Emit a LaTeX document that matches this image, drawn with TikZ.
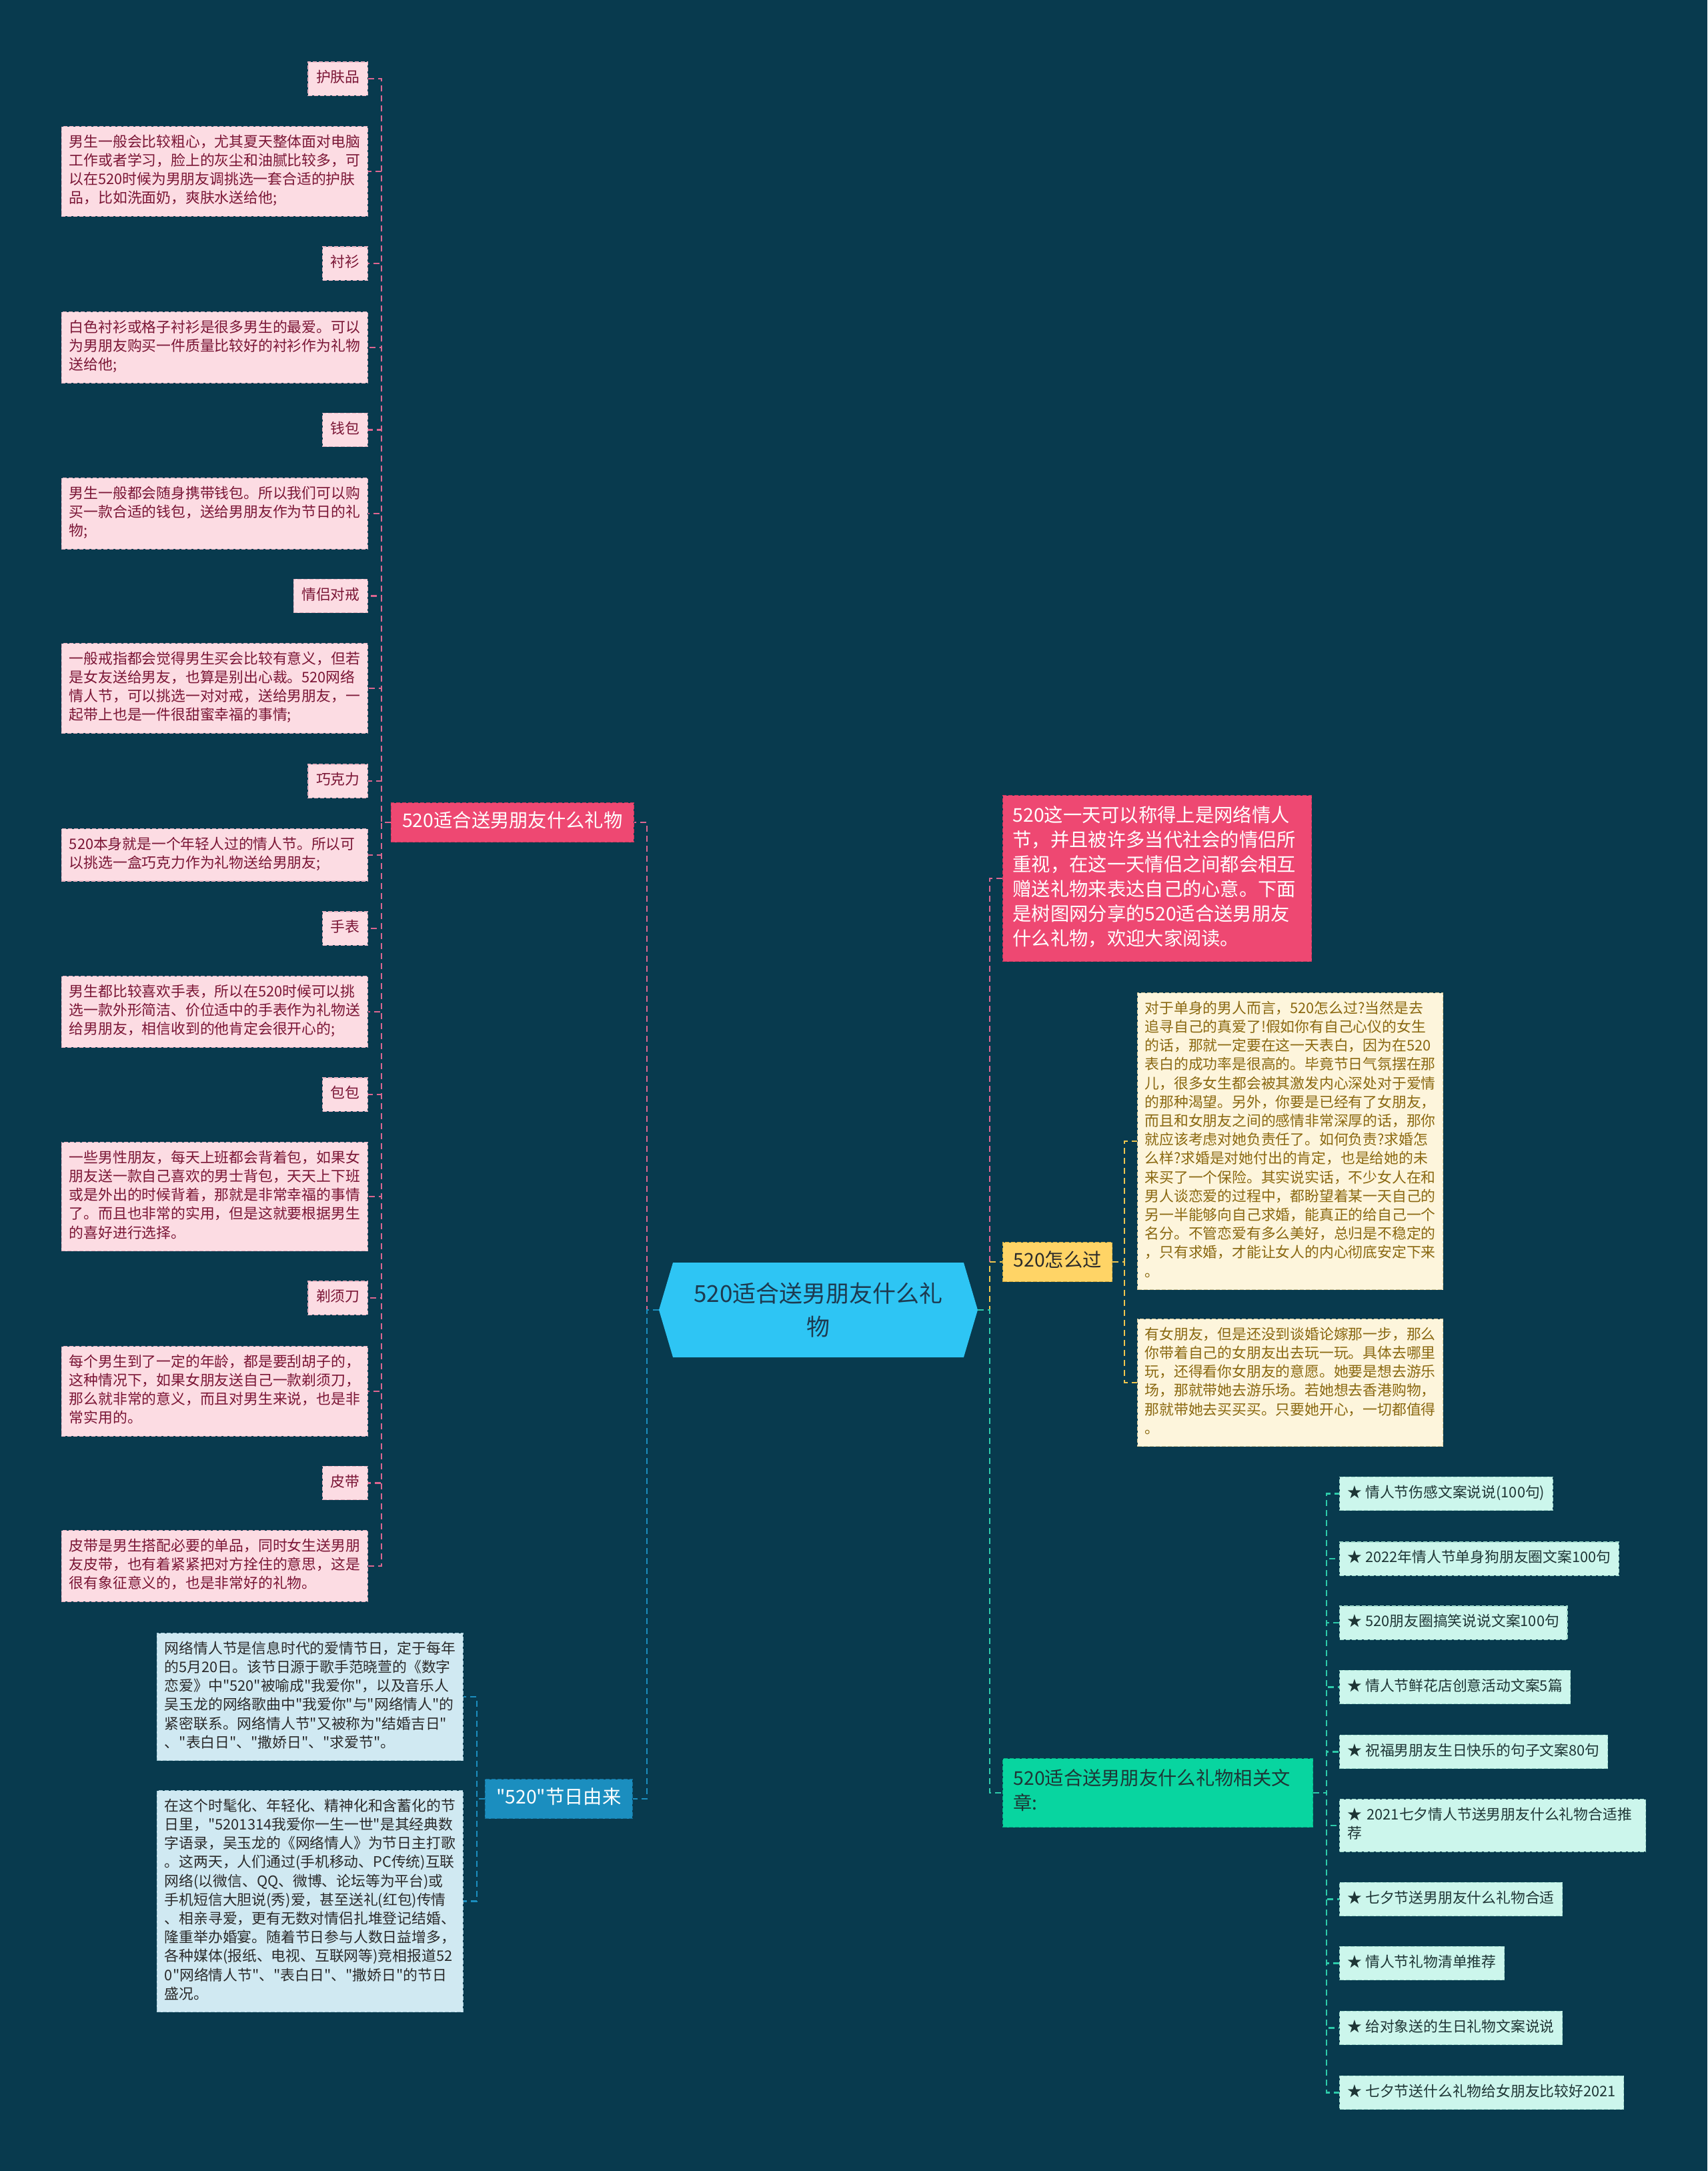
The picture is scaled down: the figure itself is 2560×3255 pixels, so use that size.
\documentclass[tikz,border=0pt]{standalone}
\usepackage{fontspec}
\setmainfont{Noto Sans CJK SC}[Ligatures=TeXOff]
\usepackage{xcolor}
\usetikzlibrary{shapes.symbols}

\definecolor{bgdark}{HTML}{083A4E}
\definecolor{giftfill}{HTML}{FCDCE3}
\definecolor{giftedge}{HTML}{E8B2C1}
\definecolor{giftink}{HTML}{7A1535}
\definecolor{giftwirecol}{HTML}{DD6690}
\definecolor{roseband}{HTML}{EE4872}
\definecolor{roseedge}{HTML}{C8375C}
\definecolor{rootfill}{HTML}{2EC5F4}
\definecolor{rootink}{HTML}{1D3A50}
\definecolor{sunfill}{HTML}{FFD466}
\definecolor{sunedge}{HTML}{D9AE3E}
\definecolor{sunwirecol}{HTML}{F0C64E}
\definecolor{creamfill}{HTML}{FDF5DC}
\definecolor{creamedge}{HTML}{DCCB9A}
\definecolor{oliveink}{HTML}{8A6810}
\definecolor{mintbold}{HTML}{08D5A0}
\definecolor{mintboldedge}{HTML}{05AE82}
\definecolor{mintfill}{HTML}{CCF6EC}
\definecolor{mintedge}{HTML}{9FD9CB}
\definecolor{mintwirecol}{HTML}{2DCBAA}
\definecolor{mintink}{HTML}{1E3535}
\definecolor{seablue}{HTML}{1B8EBF}
\definecolor{seaedge}{HTML}{14709A}
\definecolor{skyfill}{HTML}{D0E9F2}
\definecolor{skyedge}{HTML}{A3C8D6}
\definecolor{inkgray}{HTML}{2A2A2A}

\newcommand\smalltxt{\fontsize{21.8}{28.2}\selectfont}
\newcommand\midtxt{\fontsize{28.3}{37}\selectfont}
\newcommand\bigtxt{\fontsize{35}{50}\selectfont}

\begin{document}
\begin{tikzpicture}[x=1pt, y=-1pt,
    card/.style={align=left, dash pattern=on 6pt off 3pt, line width=1.2pt,
      execute at begin node=\strut, execute at end node=\strut},
    wire/.style={line width=2.5pt, dash pattern=on 9pt off 6pt},
    rootnode/.style={shape=signal, signal to=west and east, signal pointer angle=147,
      fill=rootfill, text=rootink, font=\bigtxt, align=center,
      minimum width=478pt, minimum height=142pt, inner sep=0pt},
    branch/.style={card, fill=roseband, draw=roseedge, text=white, font=\midtxt,
      inner xsep=17pt, inner ysep=11pt},
    giftname/.style={card, fill=giftfill, draw=giftedge, text=giftink, font=\smalltxt,
      inner xsep=12pt, inner ysep=11pt, anchor=east},
    giftnote/.style={giftname, text width=436pt, inner xsep=11.5pt, anchor=north east},
    giftwire/.style={wire, draw=giftwirecol},
    introbox/.style={card, fill=roseband, draw=roseedge, text=white, font=\midtxt,
      text width=433pt, inner xsep=15pt, inner ysep=13.5pt, anchor=north west},
    howbox/.style={card, fill=sunfill, draw=sunedge, text=inkgray, font=\midtxt,
      inner xsep=16pt, inner ysep=11pt, anchor=west},
    hownote/.style={card, fill=creamfill, draw=creamedge, text=oliveink, font=\smalltxt,
      text width=436pt, inner xsep=11pt, inner ysep=11pt, anchor=north west},
    howwire/.style={wire, draw=sunwirecol},
    relbox/.style={card, fill=mintbold, draw=mintboldedge, text=mintink, font=\midtxt,
      text width=433pt, inner xsep=16pt, inner ysep=14.5pt, anchor=west},
    relitem/.style={card, fill=mintfill, draw=mintedge, text=mintink, font=\smalltxt,
      inner xsep=12pt, inner ysep=11pt, anchor=west},
    relwire/.style={wire, draw=mintwirecol},
    originbox/.style={branch, fill=seablue, draw=seaedge, anchor=east},
    originnote/.style={card, fill=skyfill, draw=skyedge, text=inkgray, font=\smalltxt,
      text width=436pt, inner xsep=11.5pt, inner ysep=11pt, anchor=north east},
    originwire/.style={wire, draw=seablue}]

    % Background and frame
    \fill[bgdark] (0,0) rectangle (2560,3255);
    \useasboundingbox (0,0) rectangle (2560,3255);

    % Central topic
    \node[rootnode] (root) at (1227,1964) {520适合送男朋友什么礼\\物};
    \coordinate (lhub) at (970,1964);
    \coordinate (rhub) at (1484,1964);

    % Gift ideas (left, pink)
    \node[branch, anchor=east] (giftbranch) at (951,1233) {520适合送男朋友什么礼物};
    \coordinate (giftbus) at (572,1233);

    \node[giftname] (skincare) at (552,118) {护肤品};
    \node[giftnote] (skincaretxt) at (552,189) {男生一般会比较粗心，尤其夏天整体面对电脑\\工作或者学习，脸上的灰尘和油腻比较多，可\\以在520时候为男朋友调挑选一套合适的护肤\\品，比如洗面奶，爽肤水送给他;};
    \node[giftname] (shirt) at (552,395) {衬衫};
    \node[giftnote] (shirttxt) at (552,467) {白色衬衫或格子衬衫是很多男生的最爱。可以\\为男朋友购买一件质量比较好的衬衫作为礼物\\送给他;};
    \node[giftname] (wallet) at (552,644.5) {钱包};
    \node[giftnote] (wallettxt) at (552,716) {男生一般都会随身携带钱包。所以我们可以购\\买一款合适的钱包，送给男朋友作为节日的礼\\物;};
    \node[giftname] (rings) at (552,893.5) {情侣对戒};
    \node[giftnote] (ringstxt) at (552,964) {一般戒指都会觉得男生买会比较有意义，但若\\是女友送给男友，也算是别出心裁。520网络\\情人节，可以挑选一对对戒，送给男朋友，一\\起带上也是一件很甜蜜幸福的事情;};
    \node[giftname] (choc) at (552,1171) {巧克力};
    \node[giftnote] (choctxt) at (552,1242) {520本身就是一个年轻人过的情人节。所以可\\以挑选一盒巧克力作为礼物送给男朋友;};
    \node[giftname] (watch) at (552,1392) {手表};
    \node[giftnote] (watchtxt) at (552,1463) {男生都比较喜欢手表，所以在520时候可以挑\\选一款外形简洁、价位适中的手表作为礼物送\\给男朋友，相信收到的他肯定会很开心的;};
    \node[giftname] (bag) at (552,1641) {包包};
    \node[giftnote] (bagtxt) at (552,1712) {一些男性朋友，每天上班都会背着包，如果女\\朋友送一款自己喜欢的男士背包，天天上下班\\或是外出的时候背着，那就是非常幸福的事情\\了。而且也非常的实用，但是这就要根据男生\\的喜好进行选择。};
    \node[giftname] (razor) at (552,1946) {剃须刀};
    \node[giftnote] (razortxt) at (552,2018) {每个男生到了一定的年龄，都是要刮胡子的，\\这种情况下，如果女朋友送自己一款剃须刀，\\那么就非常的意义，而且对男生来说，也是非\\常实用的。};
    \node[giftname] (belt) at (552,2223.5) {皮带};
    \node[giftnote] (belttxt) at (552,2294) {皮带是男生搭配必要的单品，同时女生送男朋\\友皮带，也有着紧紧把对方拴住的意思，这是\\很有象征意义的，也是非常好的礼物。};

    \draw[giftwire] (root.west) -- (lhub) |- (giftbranch.east);
    \draw[giftwire] (giftbranch.west) -- (giftbus) |- (skincare.east);
    \draw[giftwire] (giftbranch.west) -- (giftbus) |- (skincaretxt.east);
    \draw[giftwire] (giftbranch.west) -- (giftbus) |- (shirt.east);
    \draw[giftwire] (giftbranch.west) -- (giftbus) |- (shirttxt.east);
    \draw[giftwire] (giftbranch.west) -- (giftbus) |- (wallet.east);
    \draw[giftwire] (giftbranch.west) -- (giftbus) |- (wallettxt.east);
    \draw[giftwire] (giftbranch.west) -- (giftbus) |- (rings.east);
    \draw[giftwire] (giftbranch.west) -- (giftbus) |- (ringstxt.east);
    \draw[giftwire] (giftbranch.west) -- (giftbus) |- (choc.east);
    \draw[giftwire] (giftbranch.west) -- (giftbus) |- (choctxt.east);
    \draw[giftwire] (giftbranch.west) -- (giftbus) |- (watch.east);
    \draw[giftwire] (giftbranch.west) -- (giftbus) |- (watchtxt.east);
    \draw[giftwire] (giftbranch.west) -- (giftbus) |- (bag.east);
    \draw[giftwire] (giftbranch.west) -- (giftbus) |- (bagtxt.east);
    \draw[giftwire] (giftbranch.west) -- (giftbus) |- (razor.east);
    \draw[giftwire] (giftbranch.west) -- (giftbus) |- (razortxt.east);
    \draw[giftwire] (giftbranch.west) -- (giftbus) |- (belt.east);
    \draw[giftwire] (giftbranch.west) -- (giftbus) |- (belttxt.east);

    % Origin of the day (left, blue)
    \node[originbox] (origin) at (949,2697) {"520"节日由来};
    \coordinate (originbus) at (715,2697);
    \node[originnote] (origintxt1) at (695,2448) {网络情人节是信息时代的爱情节日，定于每年\\的5月20日。该节日源于歌手范晓萱的《数字\\恋爱》中"520"被喻成"我爱你"，以及音乐人\\吴玉龙的网络歌曲中"我爱你"与"网络情人"的\\紧密联系。网络情人节"又被称为"结婚吉日"\\、"表白日"、"撒娇日"、"求爱节"。};
    \node[originnote] (origintxt2) at (695,2684) {在这个时髦化、年轻化、精神化和含蓄化的节\\日里，"5201314我爱你一生一世"是其经典数\\字语录，吴玉龙的《网络情人》为节日主打歌\\。这两天，人们通过(手机移动、PC传统)互联\\网络(以微信、QQ、微博、论坛等为平台)或\\手机短信大胆说(秀)爱，甚至送礼(红包)传情\\、相亲寻爱，更有无数对情侣扎堆登记结婚、\\隆重举办婚宴。随着节日参与人数日益增多，\\各种媒体(报纸、电视、互联网等)竞相报道52\\0"网络情人节"、"表白日"、"撒娇日"的节日\\盛况。};

    \draw[originwire] (root.west) -- (lhub) |- (origin.east);
    \draw[originwire] (origin.west) -- (originbus) |- (origintxt1.east);
    \draw[originwire] (origin.west) -- (originbus) |- (origintxt2.east);

    % Intro (right, pink)
    \node[introbox] (intro) at (1503,1192) {520这一天可以称得上是网络情人\\节，并且被许多当代社会的情侣所\\重视，在这一天情侣之间都会相互\\赠送礼物来表达自己的心意。下面\\是树图网分享的520适合送男朋友\\什么礼物，欢迎大家阅读。};
    \draw[giftwire] (root.east) -- (rhub) |- (intro.west);

    % How to spend 520 (right, yellow)
    \node[howbox] (how) at (1503,1892) {520怎么过};
    \coordinate (howbus) at (1686,1892);
    \node[hownote] (howtxt1) at (1705,1488) {对于单身的男人而言，520怎么过?当然是去\\追寻自己的真爱了!假如你有自己心仪的女生\\的话，那就一定要在这一天表白，因为在520\\表白的成功率是很高的。毕竟节日气氛摆在那\\儿，很多女生都会被其激发内心深处对于爱情\\的那种渴望。另外，你要是已经有了女朋友，\\而且和女朋友之间的感情非常深厚的话，那你\\就应该考虑对她负责任了。如何负责?求婚怎\\么样?求婚是对她付出的肯定，也是给她的未\\来买了一个保险。其实说实话，不少女人在和\\男人谈恋爱的过程中，都盼望着某一天自己的\\另一半能够向自己求婚，能真正的给自己一个\\名分。不管恋爱有多么美好，总归是不稳定的\\，只有求婚，才能让女人的内心彻底安定下来\\。};
    \node[hownote] (howtxt2) at (1705,1977) {有女朋友，但是还没到谈婚论嫁那一步，那么\\你带着自己的女朋友出去玩一玩。具体去哪里\\玩，还得看你女朋友的意愿。她要是想去游乐\\场，那就带她去游乐场。若她想去香港购物，\\那就带她去买买买。只要她开心，一切都值得\\。};

    \draw[howwire] (root.east) -- (rhub) |- (how.west);
    \draw[howwire] (how.east) -- (howbus) |- (howtxt1.west);
    \draw[howwire] (how.east) -- (howbus) |- (howtxt2.west);

    % Related articles (right, teal)
    \node[relbox] (related) at (1503,2688) {520适合送男朋友什么礼物相关文\\章:};
    \coordinate (relbus) at (1989,2688);
    \node[relitem] (rel1) at (2008,2239.5) {★ 情人节伤感文案说说(100句)};
    \node[relitem] (rel2) at (2008,2337) {★ 2022年情人节单身狗朋友圈文案100句};
    \node[relitem] (rel3) at (2008,2433) {★ 520朋友圈搞笑说说文案100句};
    \node[relitem] (rel4) at (2008,2529.5) {★ 情人节鲜花店创意活动文案5篇};
    \node[relitem] (rel5) at (2008,2626.5) {★ 祝福男朋友生日快乐的句子文案80句};
    \node[relitem, text width=435pt] (rel6) at (2008,2737) {★ 2021七夕情人节送男朋友什么礼物合适推\\荐};
    \node[relitem] (rel7) at (2008,2847.5) {★ 七夕节送男朋友什么礼物合适};
    \node[relitem] (rel8) at (2008,2943.5) {★ 情人节礼物清单推荐};
    \node[relitem] (rel9) at (2008,3040.5) {★ 给对象送的生日礼物文案说说};
    \node[relitem] (rel10) at (2008,3137.5) {★ 七夕节送什么礼物给女朋友比较好2021};

    \draw[relwire] (root.east) -- (rhub) |- (related.west);
    \draw[relwire] (related.east) -- (relbus) |- (rel1.west);
    \draw[relwire] (related.east) -- (relbus) |- (rel2.west);
    \draw[relwire] (related.east) -- (relbus) |- (rel3.west);
    \draw[relwire] (related.east) -- (relbus) |- (rel4.west);
    \draw[relwire] (related.east) -- (relbus) |- (rel5.west);
    \draw[relwire] (related.east) -- (relbus) |- (rel6.west);
    \draw[relwire] (related.east) -- (relbus) |- (rel7.west);
    \draw[relwire] (related.east) -- (relbus) |- (rel8.west);
    \draw[relwire] (related.east) -- (relbus) |- (rel9.west);
    \draw[relwire] (related.east) -- (relbus) |- (rel10.west);
\end{tikzpicture}
\end{document}
